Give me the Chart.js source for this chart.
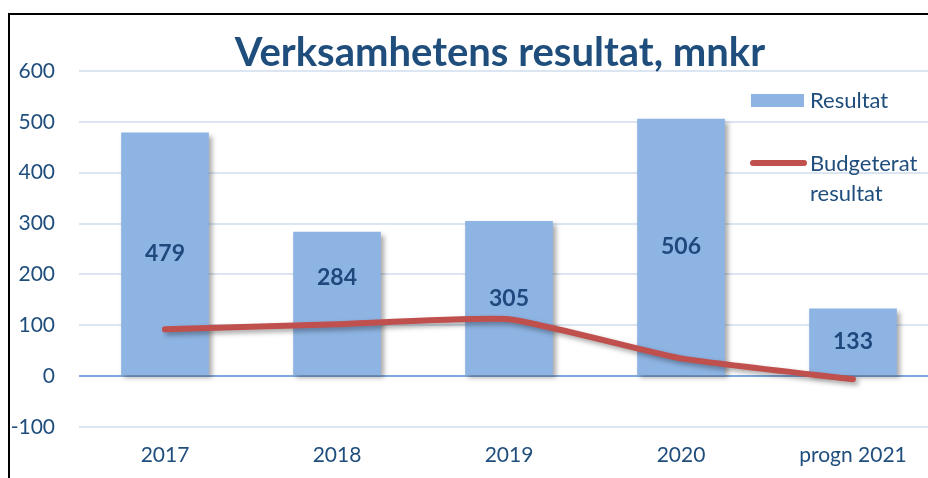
<!DOCTYPE html>
<html>
<head>
<meta charset="utf-8">
<script src="https://cdn.jsdelivr.net/npm/chart.js@4"></script>
<style>
  html, body { margin: 0; padding: 0; background: #fff; overflow: hidden; }
  #wrap { position: relative; width: 928px; height: 478px; overflow: hidden; }
  #frame { position: absolute; left: 8px; top: 13px; width: 1000px; height: 1000px;
           border-left: 2px solid #000; border-top: 2px solid #000; }
  #box { position: absolute; left: 0; top: 0; width: 950px; height: 478px; }
  canvas { display: block; }
</style>
</head>
<body>
<div id="wrap">
  <div id="frame"></div>
  <div id="box"><canvas id="mycanvas" width="950" height="478"></canvas></div>
</div>
<script>
var titleText = 'Verksamhetens resultat, mnkr';
var years = ['2017', '2018', '2019', '2020', 'progn 2021'];
var resultat = [479, 284, 305, 506, 133];
var budget = [92, 102, 112, 35, -6];

var navy = '#1F4E7D';
var barBlue = '#8EB4E3';
var red = '#C0504D';

// bar / line shadows like the Excel original
var shadowPlugin = {
  id: 'shadows',
  beforeDatasetDraw: function(chart, args) {
    var ctx = chart.ctx;
    ctx.save();
    ctx.shadowColor = 'rgba(0,0,0,0.35)';
    ctx.shadowBlur = 5;
    ctx.shadowOffsetX = 3;
    ctx.shadowOffsetY = 3;
  },
  afterDatasetDraw: function(chart) {
    chart.ctx.restore();
  }
};

var extrasPlugin = {
  id: 'extras',
  afterDatasetsDraw: function(chart) {
    var ctx = chart.ctx;
    // value labels in the middle of the bars (2018 label was nudged up in the original)
    var meta = chart.getDatasetMeta(0);
    ctx.save();
    ctx.font = 'bold 23px Lato';
    ctx.fillStyle = '#1F497D';
    ctx.textAlign = 'center';
    ctx.textBaseline = 'middle';
    meta.data.forEach(function(bar, i) {
      var y = (bar.y + bar.base) / 2;
      if (i === 1) y -= 26;
      ctx.fillText(resultat[i], bar.x, y);
    });
    ctx.restore();
  },
  afterDraw: function(chart) {
    var ctx = chart.ctx;
    ctx.save();
    // title
    ctx.font = 'bold 40px Lato';
    ctx.fillStyle = navy;
    ctx.textAlign = 'center';
    ctx.textBaseline = 'middle';
    ctx.fillText(titleText, 500, 53);

    // legend
    var ds = chart.data.datasets;
    ctx.font = '22px Lato';
    ctx.textAlign = 'left';
    ctx.fillStyle = ds[0].backgroundColor;
    ctx.fillRect(751, 94, 53, 13);
    ctx.fillStyle = navy;
    ctx.fillText(ds[0].label, 810, 101);

    ctx.strokeStyle = ds[1].borderColor;
    ctx.lineWidth = 6;
    ctx.lineCap = 'round';
    ctx.beginPath();
    ctx.moveTo(753, 163);
    ctx.lineTo(804, 163);
    ctx.stroke();
    var parts = ds[1].label.split(' ');
    ctx.fillText(parts[0], 810, 164);
    ctx.fillText(parts[1], 810, 194);
    ctx.restore();
  }
};

var ctx = document.getElementById('mycanvas');

var chart = new Chart(ctx, {
  type: 'bar',
  data: {
    labels: years,
    datasets: [
      {
        type: 'bar',
        label: 'Resultat',
        data: resultat,
        backgroundColor: barBlue,
        borderWidth: 0,
        barPercentage: 0.51,
        categoryPercentage: 1,
        order: 2
      },
      {
        type: 'line',
        label: 'Budgeterat resultat',
        data: budget,
        borderColor: red,
        borderWidth: 6,
        borderCapStyle: 'round',
        borderJoinStyle: 'round',
        tension: 0.15,
        pointRadius: 0,
        fill: false,
        order: 1
      }
    ]
  },
  options: {
    responsive: false,
    animation: false,
    layout: { padding: { top: 71, right: 11, bottom: 9, left: 0 } },
    plugins: {
      legend: { display: false },
      title: { display: false },
      tooltip: { enabled: false }
    },
    scales: {
      x: {
        afterFit: function(scale) { scale.height = 42; },
        grid: { display: false, drawTicks: false },
        border: { display: false },
        ticks: { color: navy, font: { family: 'Lato', size: 21 }, padding: 16, maxRotation: 0 }
      },
      y: {
        min: -100,
        max: 600,
        afterFit: function(scale) { scale.width = 79; },
        border: { display: false },
        grid: {
          drawTicks: false,
          lineWidth: 2,
          color: function(c) { return c.tick.value === 0 ? '#7FA9DC' : '#DCE6F2'; }
        },
        ticks: { stepSize: 100, color: navy, font: { family: 'Lato', size: 21 }, padding: 24 }
      }
    }
  },
  plugins: [shadowPlugin, extrasPlugin]
});
</script>
</body>
</html>
